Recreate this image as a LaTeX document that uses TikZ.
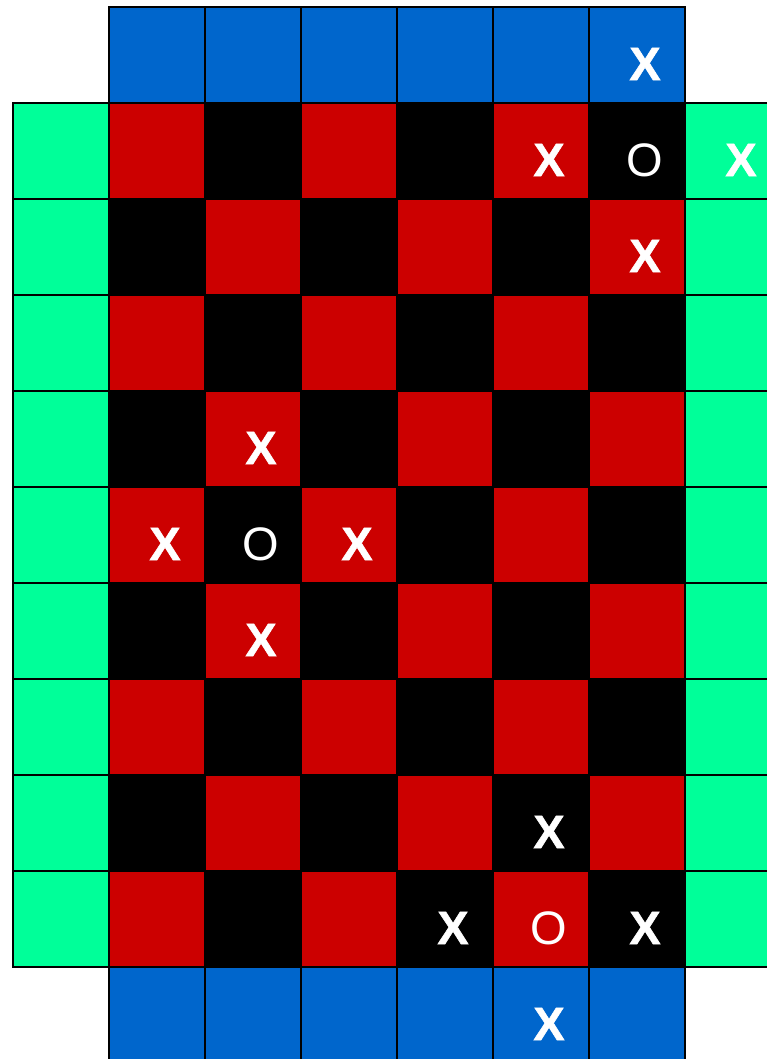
\documentclass[tikz,border=0pt]{standalone}
\usepackage{fontspec}
\setmainfont{Liberation Sans}
\newfontfamily\heavyfont[FakeBold=1.2]{Liberation Sans Bold}
\definecolor{cblue}{HTML}{0066CC}
\definecolor{cred}{HTML}{CC0000}
\definecolor{cgreen}{HTML}{00FF99}
\begin{document}
\begin{tikzpicture}[x=1pt,y=-1pt,
  cell/.style={draw=black,line width=1.5pt,minimum size=96pt,inner sep=0pt,outer sep=0pt},
  xmark/.style={text=white,font=\heavyfont\fontsize{47}{47}\selectfont,inner sep=0pt},
  omark/.style={text=white,font=\fontsize{47}{47}\selectfont,inner sep=0pt}]
\useasboundingbox (0,0) rectangle (767,1059);
\clip (0,0) rectangle (767,1059);
% board
\foreach \c in {0,...,5}{
  \foreach \r in {0,...,8}{
    \pgfmathtruncatemacro\s{mod(\c+\r,2)}
    \ifnum\s=0 \def\col{cred}\else\def\col{black}\fi
    \node[cell,fill=\col] (b-\c-\r) at ({157+96*\c},{151+96*\r}) {};
  }
  \node[cell,fill=cblue] (top-\c) at ({157+96*\c},55) {};
  \node[cell,fill=cblue] (bot-\c) at ({157+96*\c},1015) {};
}
\foreach \r in {0,...,8}{
  \node[cell,fill=cgreen] (left-\r) at (61,{151+96*\r}) {};
  \node[cell,fill=cgreen] (right-\r) at (733,{151+96*\r}) {};
}
% marks
\node[xmark] (m1) at ([shift={(8,9)}]top-5.center) {X};
\node[xmark] (m2) at ([shift={(8,9)}]b-4-0.center) {X};
\node[omark] (m3) at ([shift={(8,9)}]b-5-0.center) {O};
\node[xmark] (m4) at ([shift={(8,9)}]right-0.center) {X};
\node[xmark] (m5) at ([shift={(8,9)}]b-5-1.center) {X};
\node[xmark] (m6) at ([shift={(8,9)}]b-1-3.center) {X};
\node[xmark] (m7) at ([shift={(8,9)}]b-0-4.center) {X};
\node[omark] (m8) at ([shift={(8,9)}]b-1-4.center) {O};
\node[xmark] (m9) at ([shift={(8,9)}]b-2-4.center) {X};
\node[xmark] (m10) at ([shift={(8,9)}]b-1-5.center) {X};
\node[xmark] (m11) at ([shift={(8,9)}]b-4-7.center) {X};
\node[xmark] (m12) at ([shift={(8,9)}]b-3-8.center) {X};
\node[omark] (m13) at ([shift={(8,9)}]b-4-8.center) {O};
\node[xmark] (m14) at ([shift={(8,9)}]b-5-8.center) {X};
\node[xmark] (m15) at ([shift={(8,9)}]bot-4.center) {X};
\end{tikzpicture}
\end{document}
